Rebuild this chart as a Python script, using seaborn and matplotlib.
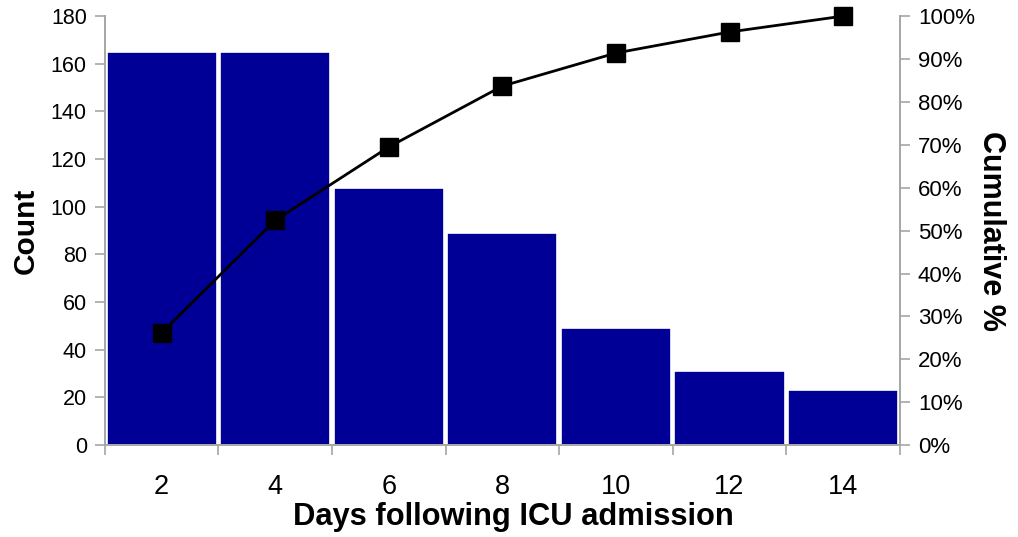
import matplotlib.pyplot as plt
import matplotlib.ticker as mticker
import seaborn as sns
import pandas as pd
import numpy as np

days = ['2', '4', '6', '8', '10', '12', '14']
counts = [165, 165, 108, 89, 49, 31, 23]
cumulative = [0.262, 0.524, 0.695, 0.837, 0.914, 0.963, 1.0]

sns.set_theme(style='white')
plt.rcParams['font.family'] = ['Liberation Sans', 'DejaVu Sans']
plt.rcParams['text.color'] = 'black'
plt.rcParams['axes.labelcolor'] = 'black'

df = pd.DataFrame({'days': days, 'count': counts, 'cum': cumulative})

fig, ax = plt.subplots(figsize=(10.18, 5.37), dpi=100)
fig.subplots_adjust(left=0.103, right=0.884, top=0.970, bottom=0.171)

sns.barplot(data=df, x='days', y='count', color='#000096', saturation=1,
            width=0.97, edgecolor='white', linewidth=1.2, ax=ax)
ax.set_xlim(-0.5, 6.5)
ax.set_ylim(0, 180)
ax.set_yticks(np.arange(0, 181, 20))

ax2 = ax.twinx()
ax2.plot(np.arange(len(days)), df['cum'], color='black', lw=2, marker='s',
         markersize=13, markerfacecolor='black', clip_on=False)
ax2.set_ylim(0, 1)
ax2.set_yticks(np.arange(0, 1.01, 0.1))
ax2.yaxis.set_major_formatter(mticker.PercentFormatter(1.0, decimals=0))

gray = '#a6a6a6'
for a in (ax, ax2):
    a.spines['top'].set_visible(False)
    for side in ['left', 'right', 'bottom']:
        a.spines[side].set_color(gray)
        a.spines[side].set_linewidth(1.2)

ax.tick_params(axis='y', direction='out', length=7, color=gray, width=1.2,
               labelsize=15.5, labelcolor='black', left=True, pad=6)
ax2.tick_params(axis='y', direction='out', length=7, color=gray, width=1.2,
                labelsize=16, labelcolor='black', right=True, pad=6)
ax.xaxis.set_minor_locator(mticker.FixedLocator(np.arange(-0.5, 7, 1)))
ax.tick_params(axis='x', which='major', length=0, labelsize=19.5,
               labelcolor='black', pad=21)
ax.tick_params(axis='x', which='minor', direction='out', length=7.5,
               color=gray, width=1.2, bottom=True)

ax.set_xlabel('Days following ICU admission', fontsize=22.2, fontweight='bold',
              labelpad=1, x=0.514)
ax.set_ylabel('Count', fontsize=21.5, fontweight='bold', labelpad=8)
ax2.set_ylabel('Cumulative %', fontsize=22, fontweight='bold', rotation=270,
               labelpad=22)

fig.savefig('out.png', dpi=100)
